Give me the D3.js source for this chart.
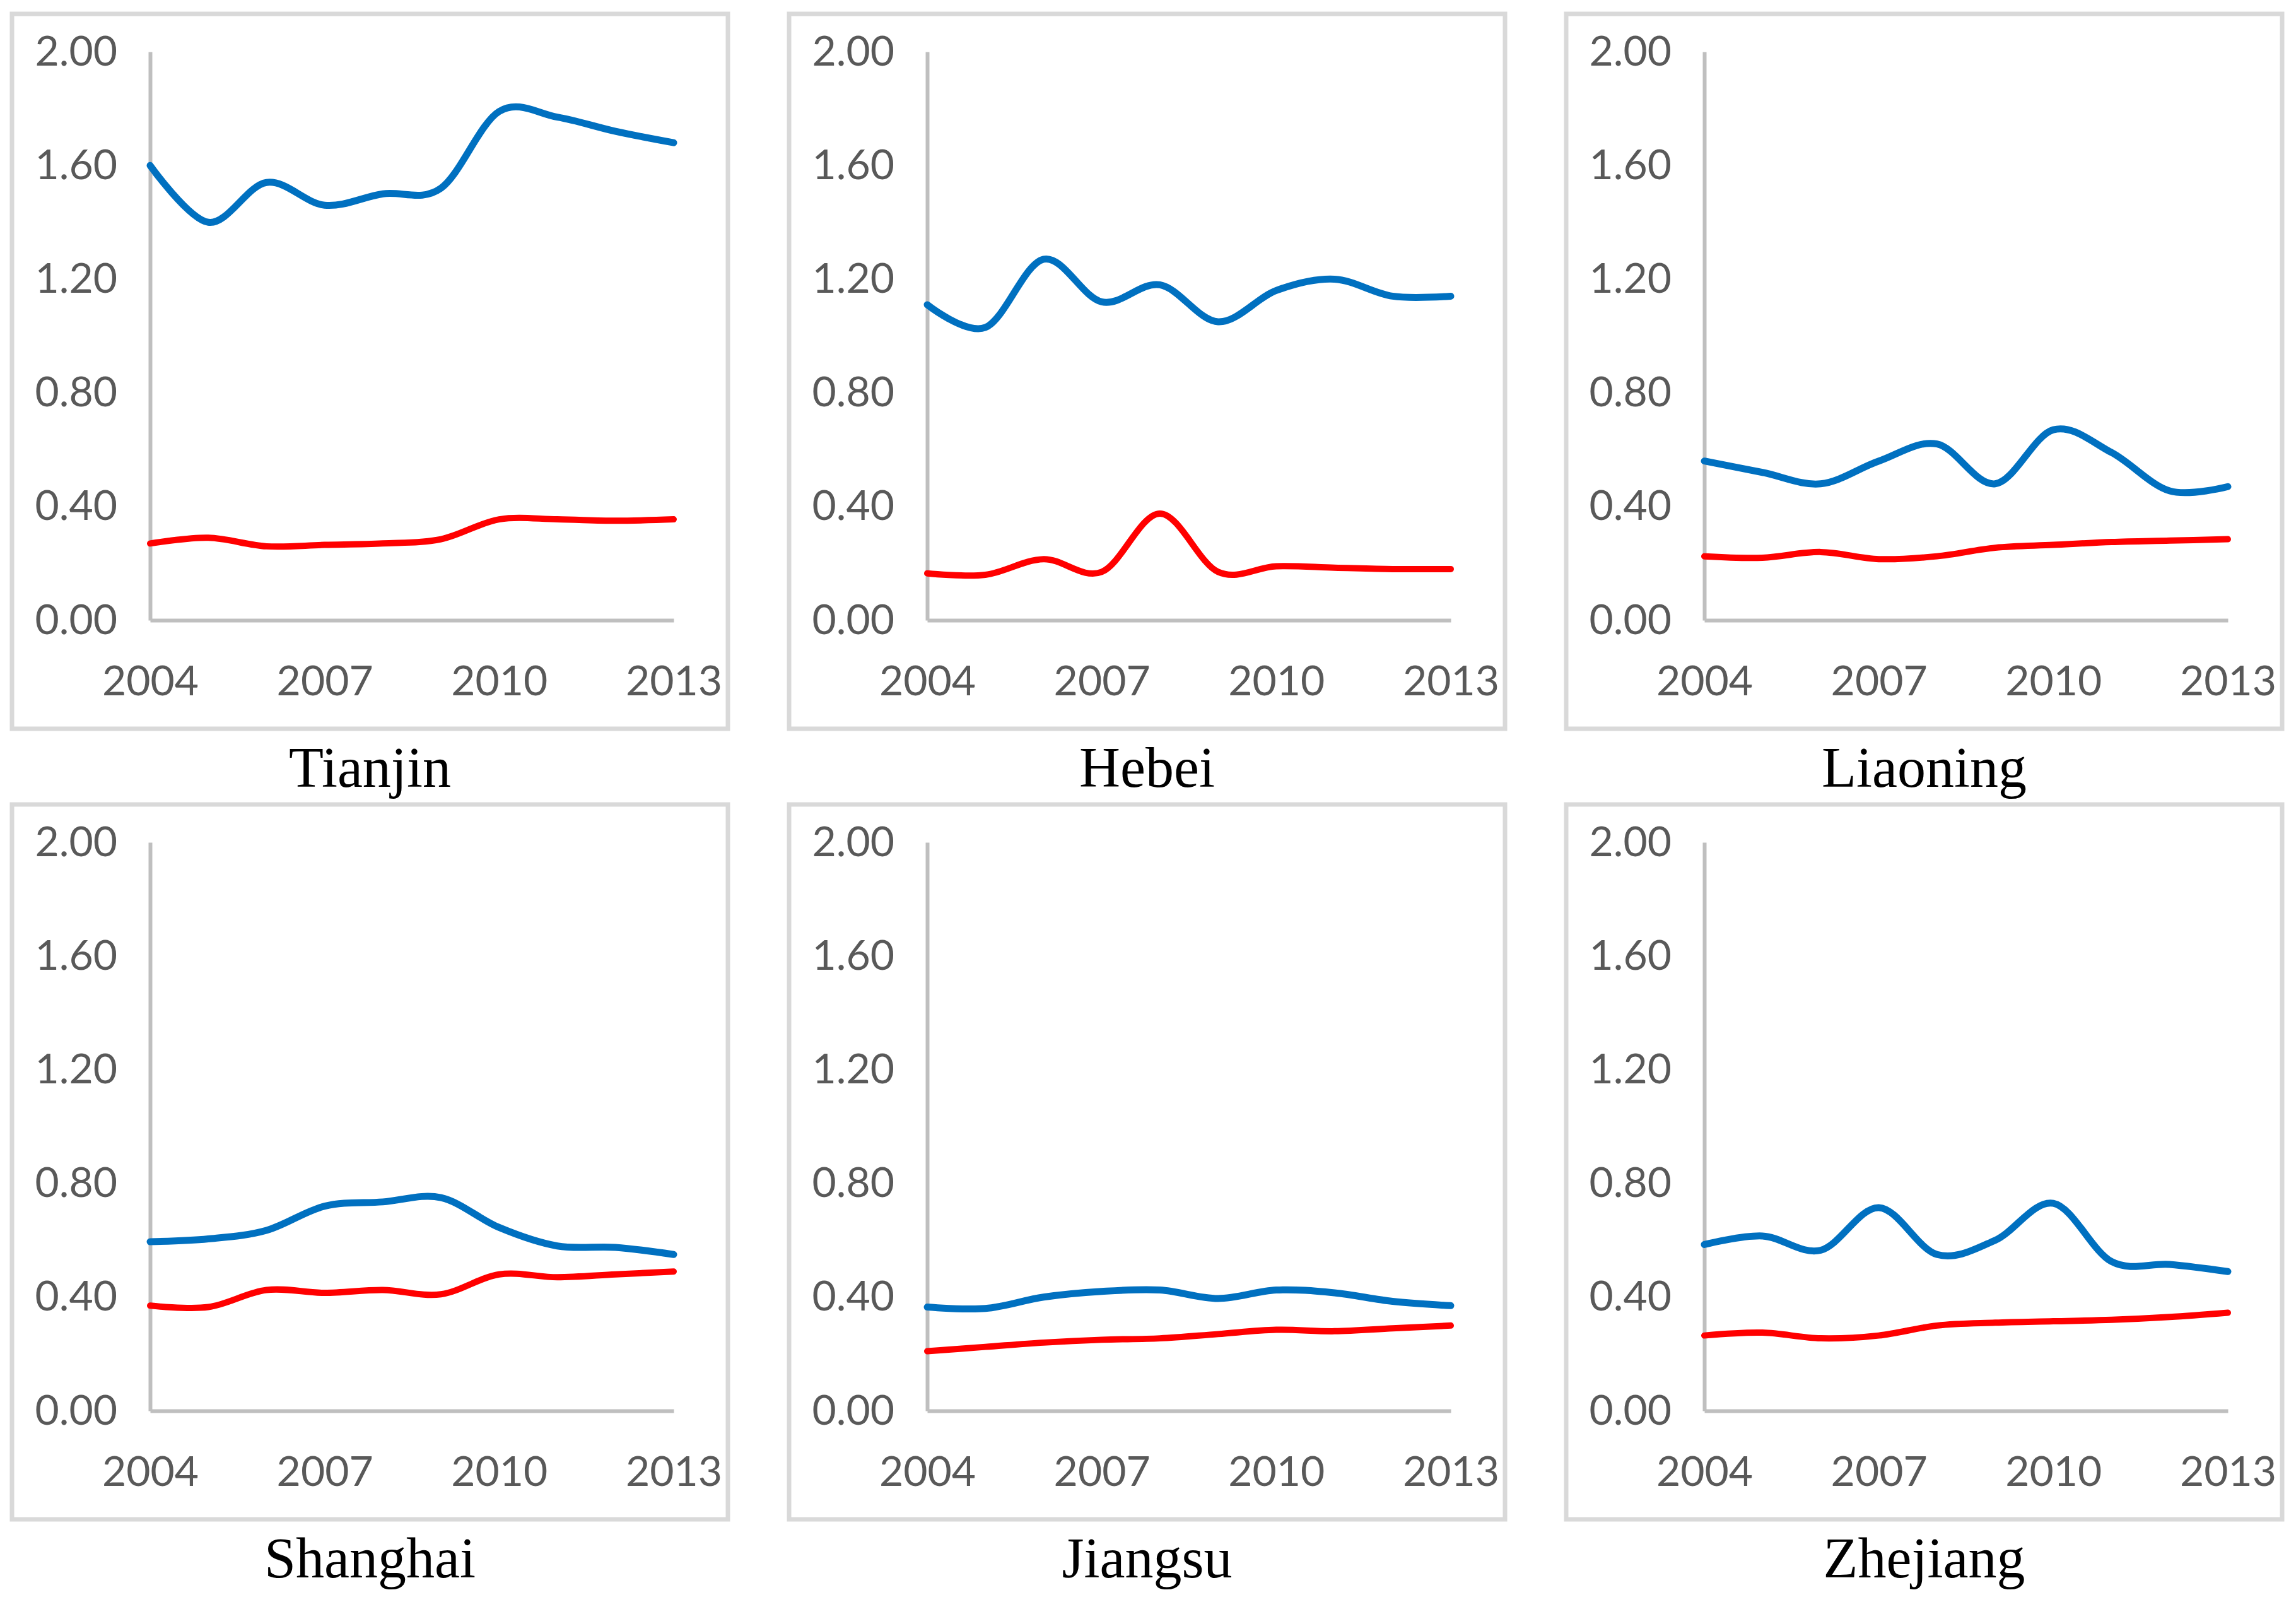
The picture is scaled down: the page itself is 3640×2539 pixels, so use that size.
<!DOCTYPE html>
<html>
<head>
    <meta charset="utf-8">
    <script src="https://cdnjs.cloudflare.com/ajax/libs/d3/7.8.5/d3.min.js"></script>
    <style>
        body { margin: 0; background: #fff; }
    </style>
</head>
<body>
    <div id="chart"></div>
    <script>
        // chart data
        const years = [2004, 2005, 2006, 2007, 2008, 2009, 2010, 2011, 2012, 2013];
        const regions = ["Tianjin", "Hebei", "Liaoning", "Shanghai", "Jiangsu", "Zhejiang"];
        const blueSeries = [
            [1.60, 1.40, 1.54, 1.46, 1.50, 1.52, 1.79, 1.77, 1.72, 1.68],
            [1.11, 1.03, 1.27, 1.12, 1.18, 1.05, 1.16, 1.20, 1.14, 1.14],
            [0.56, 0.52, 0.48, 0.56, 0.62, 0.48, 0.67, 0.59, 0.455, 0.47],
            [0.595, 0.605, 0.635, 0.72, 0.735, 0.75, 0.645, 0.58, 0.575, 0.55],
            [0.365, 0.36, 0.40, 0.42, 0.425, 0.395, 0.425, 0.415, 0.385, 0.37],
            [0.585, 0.615, 0.565, 0.715, 0.55, 0.60, 0.73, 0.525, 0.515, 0.49]
        ];
        const redSeries = [
            [0.27, 0.29, 0.26, 0.265, 0.27, 0.285, 0.355, 0.355, 0.35, 0.355],
            [0.165, 0.16, 0.215, 0.17, 0.375, 0.17, 0.19, 0.185, 0.18, 0.18],
            [0.225, 0.22, 0.24, 0.215, 0.225, 0.255, 0.265, 0.275, 0.28, 0.285],
            [0.37, 0.365, 0.425, 0.415, 0.425, 0.41, 0.48, 0.47, 0.48, 0.49],
            [0.21, 0.225, 0.24, 0.25, 0.255, 0.27, 0.285, 0.28, 0.29, 0.30],
            [0.265, 0.275, 0.255, 0.265, 0.30, 0.31, 0.315, 0.32, 0.33, 0.345]
        ];
        const yTicks = [0, 0.4, 0.8, 1.2, 1.6, 2.0];
        const xTicks = [2004, 2007, 2010, 2013];

        const W = 3640, H = 2539;
        const panelW = 1135, panelH = 1133;
        const colStep = 1232, rowStep = 1253;

        const svg = d3.select("#chart")
            .append("svg")
            .attr("width", W)
            .attr("height", H);

        const x = d3.scaleLinear().domain([2004, 2013]).range([219, 1049]);
        const y = d3.scaleLinear().domain([0, 2]).range([961, 60]);

        const line = d3.line()
            .x((d, i) => x(years[i]))
            .y(d => y(d))
            .curve(d3.curveCatmullRom.alpha(0));

        regions.forEach((name, k) => {
            const col = k % 3, row = Math.floor(k / 3);
            const g = svg.append("g")
                .attr("transform", `translate(${19 + col * colStep},${22 + row * rowStep})`);

            // frame
            g.append("rect")
                .attr("width", panelW)
                .attr("height", panelH)
                .attr("fill", "#fff")
                .attr("stroke", "#d9d9d9")
                .attr("stroke-width", 7);

            // y axis
            const yAxis = g.append("g")
                .attr("transform", `translate(${x(2004)},0)`)
                .call(d3.axisLeft(y).tickValues(yTicks).tickFormat(d3.format(".2f"))
                    .tickSize(0).tickPadding(52));
            // x axis
            const xAxis = g.append("g")
                .attr("transform", `translate(0,${y(0)})`)
                .call(d3.axisBottom(x).tickValues(xTicks).tickFormat(d3.format("d"))
                    .tickSize(0).tickPadding(72));

            [yAxis, xAxis].forEach(a => {
                a.select(".domain").attr("stroke", "#bfbfbf").attr("stroke-width", 6);
                a.selectAll("text")
                    .attr("fill", "#595959")
                    .style("font-family", "Lato, 'Open Sans', sans-serif")
                    .style("font-size", "66px");
            });

            g.append("path")
                .datum(redSeries[k])
                .attr("fill", "none")
                .attr("stroke", "#ff0000")
                .attr("stroke-width", 10)
                .attr("stroke-linecap", "round")
                .attr("d", line);

            g.append("path")
                .datum(blueSeries[k])
                .attr("fill", "none")
                .attr("stroke", "#0070c0")
                .attr("stroke-width", 11)
                .attr("stroke-linecap", "round")
                .attr("d", line);

            g.append("text")
                .attr("x", panelW / 2)
                .attr("y", panelH + 92)
                .attr("text-anchor", "middle")
                .attr("fill", "#000")
                .style("font-family", "'Liberation Serif', serif")
                .style("font-size", "90px")
                .text(name);
        });
    </script>
</body>
</html>
